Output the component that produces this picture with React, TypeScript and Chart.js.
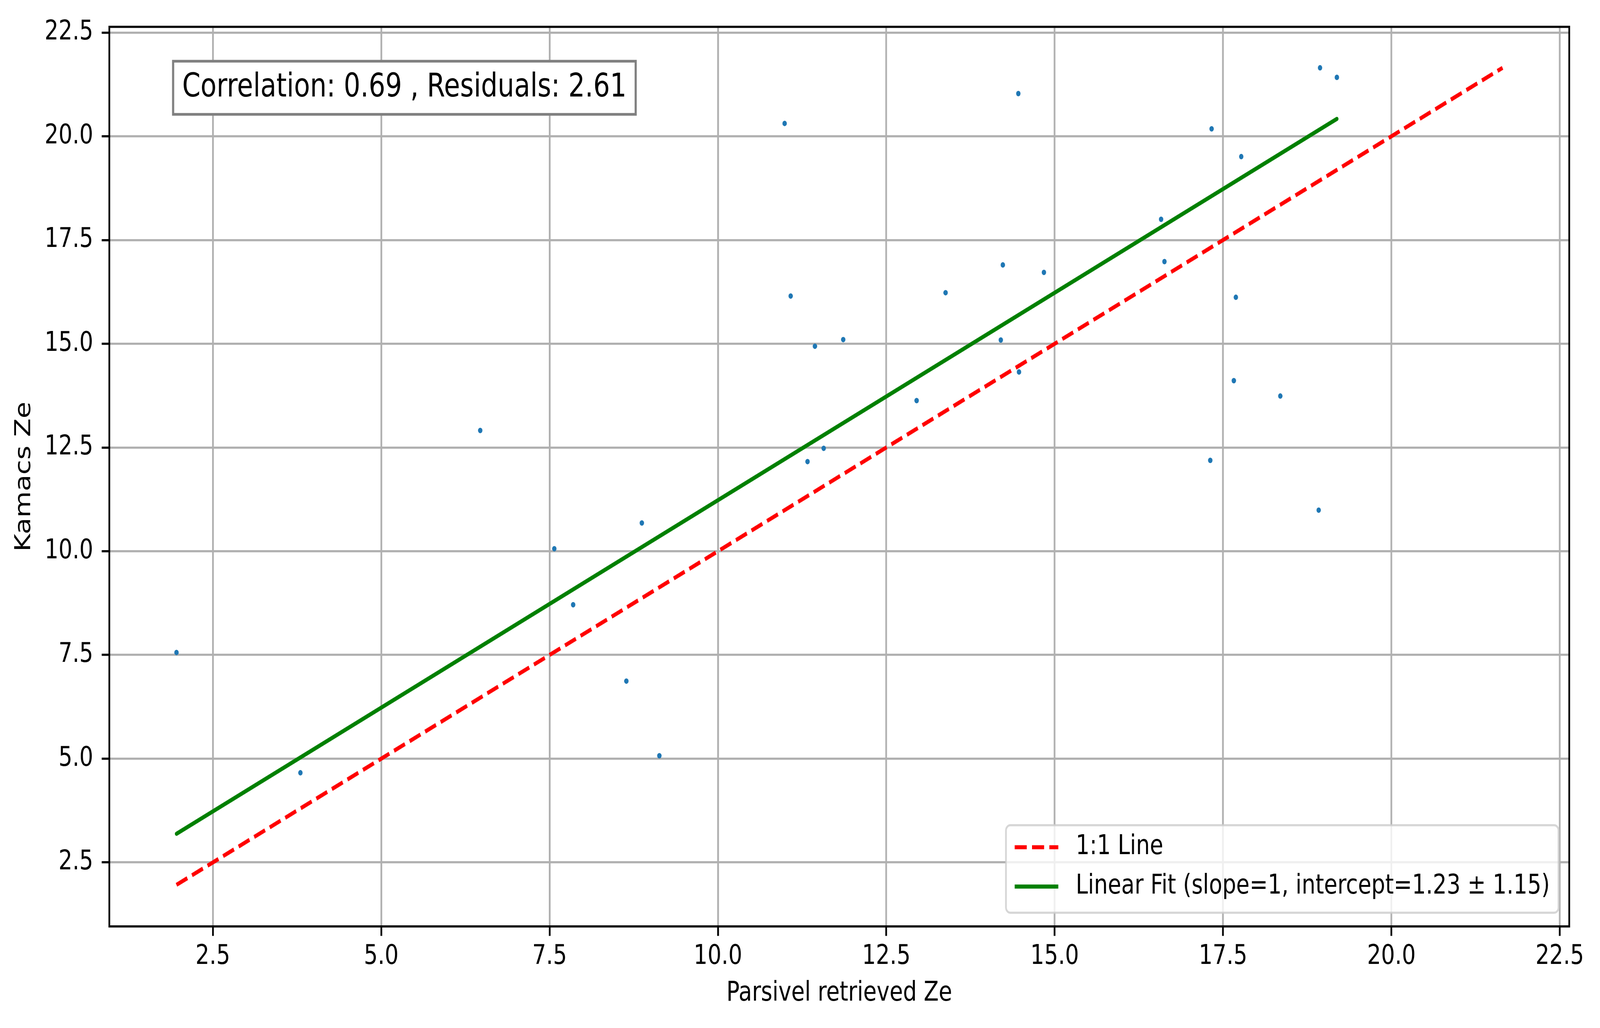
import React, { useEffect, useRef } from 'react';
import { Chart, registerables } from 'chart.js';

Chart.register(...registerables);

// values
const parsivelZe = [
  1.96, 3.8, 6.47, 7.57, 7.85, 8.64, 8.87, 9.13, 10.99, 11.08, 11.33, 11.44, 11.57, 11.86, 12.95, 13.38,
  14.2, 14.23, 14.47, 14.46, 14.84, 16.58, 16.63, 17.31, 17.33, 17.66, 17.69, 17.77, 18.35, 18.92, 18.94, 19.19,
];
const kamacsZe = [
  7.56, 4.66, 12.91, 10.06, 8.71, 6.87, 10.68, 5.07, 20.31, 16.15, 12.16, 14.94, 12.48, 15.1, 13.63, 16.23,
  15.09, 16.9, 14.32, 21.03, 16.72, 18.0, 16.98, 12.19, 20.18, 14.11, 16.12, 19.51, 13.74, 10.99, 21.65, 21.42,
];
const tickValues = [2.5, 5.0, 7.5, 10.0, 12.5, 15.0, 17.5, 20.0, 22.5];
const xLimits = [0.963, 22.64];
const yLimits = [0.958, 22.638];

const fitSlope = 1;
const fitIntercept = 1.23;
const fitError = 1.15;
const correlation = 0.69;
const residuals = 2.61;

// canvas is drawn at the window's pixel size and stretched over the whole viewport
const W = 5093;
const H = 2631;
const FONT = "'DejaVu Sans', sans-serif";
const PT = 500 / 72; // px per point

const App: React.FC = () => {
  const canvasRef = useRef<HTMLCanvasElement>(null);

  useEffect(() => {
    if (!canvasRef.current) return;

    const points = parsivelZe.map((x, i) => ({ x, y: kamacsZe[i] }));
    const lo = Math.min(...parsivelZe, ...kamacsZe);
    const hi = Math.max(...parsivelZe, ...kamacsZe);
    const xMin = Math.min(...parsivelZe);
    const xMax = Math.max(...parsivelZe);

    const overlay = {
      id: 'overlay',
      afterDatasetsDraw(chart: any) {
        const { ctx, chartArea: a } = chart;
        ctx.save();
        ctx.strokeStyle = '#000';
        ctx.lineWidth = 0.8 * PT;
        ctx.strokeRect(a.left, a.top, a.right - a.left, a.bottom - a.top);
        ctx.restore();
      },
      afterDraw(chart: any) {
        const { ctx, chartArea: a } = chart;
        ctx.save();

        // stats box top-left
        const txt = `Correlation: ${correlation.toFixed(2)} , Residuals: ${residuals.toFixed(2)}`;
        ctx.font = `${12 * PT}px ${FONT}`;
        const tw = ctx.measureText(txt).width;
        const bx = a.left + 203;
        const by = a.top + 88;
        const bw = tw + 58;
        const bh = 136;
        ctx.fillStyle = '#fff';
        ctx.fillRect(bx, by, bw, bh);
        ctx.strokeStyle = '#808080';
        ctx.lineWidth = 1 * PT;
        ctx.strokeRect(bx, by, bw, bh);
        ctx.fillStyle = '#000';
        ctx.textBaseline = 'alphabetic';
        ctx.textAlign = 'left';
        ctx.fillText(txt, bx + 29, by + 90);

        // legend lower-right
        const items = chart.data.datasets.filter((d: any) => d.label);
        const fs = 10 * PT;
        ctx.font = `${fs}px ${FONT}`;
        const maxW = Math.max(...items.map((d: any) => ctx.measureText(d.label).width));
        const pad = 0.4 * fs;
        const handle = 2 * fs;
        const gap = 0.8 * fs;
        const right = a.right - 34;
        const bottom = a.bottom - 35;
        const left = right - (pad + handle + gap + maxW + pad);
        const top = bottom - 224;
        const r = 14;
        ctx.beginPath();
        ctx.moveTo(left + r, top);
        ctx.arcTo(right, top, right, bottom, r);
        ctx.arcTo(right, bottom, left, bottom, r);
        ctx.arcTo(left, bottom, left, top, r);
        ctx.arcTo(left, top, right, top, r);
        ctx.closePath();
        ctx.fillStyle = 'rgba(255,255,255,0.8)';
        ctx.fill();
        ctx.strokeStyle = 'rgba(204,204,204,0.8)';
        ctx.lineWidth = 0.8 * PT;
        ctx.stroke();

        const rows = [bottom - 167.6, bottom - 67];
        items.forEach((d: any, i: number) => {
          const cy = rows[i];
          const hx = left + pad;
          ctx.beginPath();
          ctx.setLineDash(d.borderDash || []);
          ctx.strokeStyle = d.borderColor;
          ctx.lineWidth = d.borderWidth;
          ctx.lineCap = 'butt';
          ctx.moveTo(hx, cy);
          ctx.lineTo(hx + handle, cy);
          ctx.stroke();
          ctx.setLineDash([]);
          ctx.fillStyle = '#000';
          ctx.textBaseline = 'middle';
          ctx.fillText(d.label, hx + handle + gap, cy);
        });
        ctx.restore();
      },
    };

    const axis = (limits: number[], title: string, vertical: boolean) => ({
      type: 'linear' as const,
      min: limits[0],
      max: limits[1],
      afterBuildTicks: (s: any) => {
        s.ticks = tickValues.map((v) => ({ value: v }));
      },
      afterFit: (s: any) => {
        if (vertical) s.width = 348;
        else s.height = 260;
      },
      grid: {
        color: '#b0b0b0',
        lineWidth: 0.8 * PT,
        tickColor: '#000',
        tickWidth: 0.8 * PT,
        tickLength: 3.5 * PT,
      },
      border: { display: false },
      ticks: {
        autoSkip: false,
        maxRotation: 0,
        minRotation: 0,
        padding: vertical ? 27 : 12,
        color: '#000',
        font: { family: FONT, size: 10 * PT, lineHeight: 1.2 },
        callback: (v: any) => Number(v).toFixed(1),
      },
      title: {
        display: true,
        text: title,
        color: '#000',
        font: { family: FONT, size: 10 * PT, lineHeight: 1.2 },
        padding: vertical ? { top: 36.4, bottom: 0 } : { top: 0, bottom: 46 },
      },
    });

    const chart = new Chart(canvasRef.current, {
      type: 'scatter',
      data: {
        datasets: [
          {
            label: '1:1 Line',
            data: [{ x: lo, y: lo }, { x: hi, y: hi }],
            showLine: true,
            borderColor: '#ff0000',
            borderWidth: 1.5 * PT,
            borderDash: [3.7 * 1.5 * PT, 1.6 * 1.5 * PT],
            borderCapStyle: 'butt',
            pointRadius: 0,
            order: 2,
          },
          {
            label: `Linear Fit (slope=${fitSlope}, intercept=${fitIntercept} ± ${fitError})`,
            data: [xMin, xMax].map((x) => ({ x, y: fitSlope * x + fitIntercept })),
            showLine: true,
            borderColor: '#008000',
            borderWidth: 1.5 * PT,
            borderCapStyle: 'round',
            pointRadius: 0,
            order: 1,
          },
          {
            data: points,
            backgroundColor: '#1f77b4',
            borderWidth: 0,
            pointRadius: 7,
            order: 3,
          },
        ] as any,
      },
      options: {
        animation: false,
        responsive: false,
        devicePixelRatio: 1,
        layout: { padding: { left: 0, top: 61, right: W - 4995, bottom: 0 } },
        plugins: { legend: { display: false }, tooltip: { enabled: false } },
        scales: {
          x: axis(xLimits, 'Parsivel retrieved Ze', false),
          y: axis(yLimits, 'Kamacs Ze', true),
        },
      } as any,
      plugins: [overlay],
    });

    return () => {
      chart.destroy();
    };
  }, []);

  return (
    <div style={{ position: 'fixed', left: 0, top: 0, width: '100vw', height: '100vh', background: '#fff' }}>
      <canvas
        ref={canvasRef}
        width={W}
        height={H}
        style={{ display: 'block', width: '100vw', height: '100vh' }}
      ></canvas>
    </div>
  );
};

export default App;
